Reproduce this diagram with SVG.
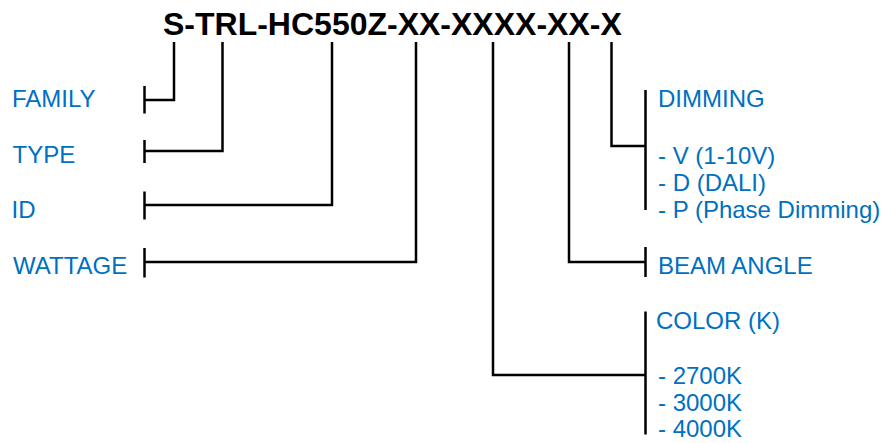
<svg xmlns="http://www.w3.org/2000/svg" width="886" height="443" viewBox="0 0 886 443">
<style>
.t{font-family:"Liberation Sans",Arial,sans-serif;font-size:24px;fill:#0070C0}
.h{font-family:"Liberation Sans",Arial,sans-serif;font-size:32px;font-weight:bold;fill:#000}
.c{fill:none;stroke:#000;stroke-width:2.5;stroke-linecap:butt;stroke-linejoin:miter}
</style>
<rect width="886" height="443" fill="#fff"/>
<g id="code"><text class="h" x="163" y="35">S-TRL-HC550Z-XX-XXXX-XX-X</text></g>
<g id="family"><text class="t" x="12" y="107">FAMILY</text></g>
<g id="type"><text class="t" x="12.5" y="162.5">TYPE</text></g>
<g id="id"><text class="t" x="11.5" y="217.5">ID</text></g>
<g id="wattage"><text class="t" x="13" y="274">WATTAGE</text></g>
<g id="dimming">
<text class="t" x="658" y="107">DIMMING</text>
<text class="t" x="658" y="164">- V (1-10V)</text>
<text class="t" x="658" y="191">- D (DALI)</text>
<text class="t" x="658" y="218">- P (Phase Dimming)</text>
</g>
<g id="beam"><text class="t" x="658" y="274">BEAM ANGLE</text></g>
<g id="color">
<text class="t" x="656" y="328.5">COLOR (K)</text>
<text class="t" x="658" y="384">- 2700K</text>
<text class="t" x="658" y="410.5">- 3000K</text>
<text class="t" x="658" y="436.5">- 4000K</text>
</g>
<g id="connectors" class="c">
<path d="M174,42V100H144.5"/><path d="M144.5,86V113.5"/>
<path d="M222.5,42V151H144.5"/><path d="M144.5,140V163"/>
<path d="M332,42V205H144.5"/><path d="M144.5,191.5V219.5"/>
<path d="M416,42V262H144.5"/><path d="M144.5,248V277.5"/>
<path d="M611.5,42V146H645.5"/><path d="M645.5,90V210"/>
<path d="M569,42V262H645.5"/><path d="M645.5,247V277"/>
<path d="M493,42V375H645.5"/><path d="M645.5,311.5V434.5"/>
</g>
</svg>
